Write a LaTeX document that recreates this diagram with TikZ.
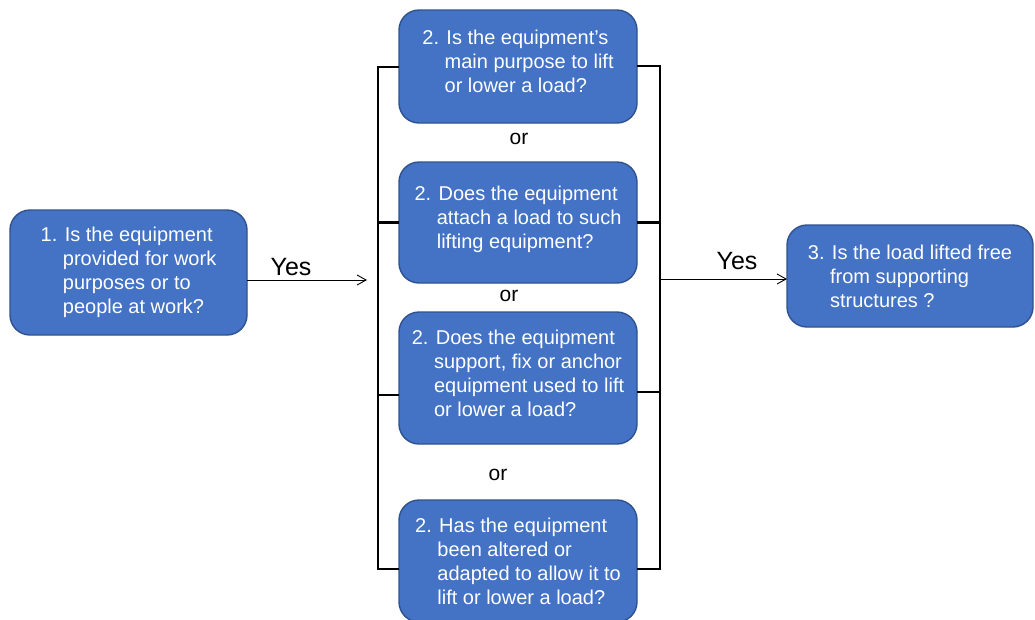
\documentclass[tikz,border=0pt]{standalone}
\usepackage{fontspec}
\setmainfont{Liberation Sans}
\usetikzlibrary{arrows.meta}

\definecolor{boxblue}{RGB}{68,114,196}
\definecolor{boxedge}{RGB}{47,82,143}
\newcommand{\hang}[1]{\phantom{#1~}}

\begin{document}
\begin{tikzpicture}[y=1pt, x=1pt, yscale=-1, inner sep=0pt, outer sep=0pt,
  qbox/.style={draw=boxedge, fill=boxblue, line width=1.4pt, rounded corners=20pt,
    text=white, align=left, font=\fontsize{20}{24}\selectfont, minimum width=238pt},
  ortext/.style={font=\fontsize{21}{24}\selectfont},
  yestext/.style={font=\fontsize{25}{28}\selectfont},
  bracket/.style={draw=black, line width=2.6pt, line join=miter},
  >={Straight Barb[length=9pt,width=10pt]}]
  \useasboundingbox (0,0) rectangle (1035,619);

% question boxes
\node[qbox, minimum width=237pt, minimum height=125pt] (q1) at (128.5,272.5)
  {1. Is the equipment\\\hang{1.}provided for work\\\hang{1.}purposes or to\\\hang{1.}people at work?};
\node[qbox, minimum height=113pt] (q2a) at (518,66.5)
  {2. Is the equipment’s\\\hang{2.}main purpose to lift\\\hang{2.}or lower a load?\\[-14pt]};
\node[qbox, minimum height=121pt] (q2b) at (518,222.5)
  {2. Does the equipment\\\hang{2.}attach a load to such\\\hang{2.}lifting equipment?\\[-14pt]};
\node[qbox, minimum height=132pt] (q2c) at (518,378)
  {2. Does the equipment\\\hang{2.}support, fix or anchor\\\hang{2.}equipment used to lift\\\hang{2.}or lower a load?\\[-14pt]};
\node[qbox, minimum height=122pt] (q2d) at (518,561)
  {2. Has the equipment\\\hang{2.}been altered or\\\hang{2.}adapted to allow it to\\\hang{2.}lift or lower a load?};
\node[qbox, minimum width=246pt, minimum height=102pt] (q3) at (910,276)
  {3. Is the load lifted free\\\hang{3.}from supporting\\\hang{3.}structures ?};

% or labels
\node[ortext] (or1) at (519,139) {or};
\node[ortext] (or2) at (509,296) {or};
\node[ortext] (or3) at (498,475) {or};

% brackets
\coordinate (lt) at (378,67);
\coordinate (lb) at (378,569);
\coordinate (lm) at (378,395);
\coordinate (rt) at (660,66);
\coordinate (rb) at (660,569);
\coordinate (rm) at (660,392);
\path[bracket] (lt -| q2a.west) -- (lt) -- (lb) -- (lb -| q2d.west);
\path[bracket] (q2b.west) -- (q2b.west -| lt);
\path[bracket] (lm) -- (lm -| q2c.west);
\path[bracket] (rt -| q2a.east) -- (rt) -- (rb) -- (rb -| q2d.east);
\path[bracket] (q2b.east) -- (q2b.east -| rt);
\path[bracket] (rm) -- (rm -| q2c.east);

% yes arrows
\coordinate (in) at (367,280);
\coordinate (out) at (660,279);
\path[draw=black, line width=0.9pt, ->] (in -| q1.east) -- (in);
\node[yestext] (yes1) at (291,267) {Yes};
\path[draw=black, line width=0.9pt, ->] (out) -- (out -| q3.west);
\node[yestext] (yes2) at (737,261) {Yes};

\end{tikzpicture}
\end{document}
